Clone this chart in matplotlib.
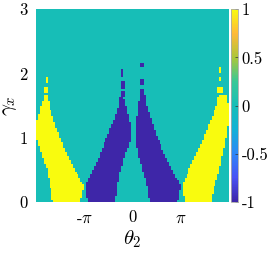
import numpy as np
import matplotlib
matplotlib.use("Agg")
import matplotlib.pyplot as plt
from matplotlib.path import Path
from matplotlib.colors import LinearSegmentedColormap

# ---- data (theta in units of pi, gamma_x) ----
gamma_levels = [0.0, 0.25, 0.5, 0.75, 1.0, 1.25, 1.5, 1.65]

yellowL_left = [-1.64, -1.71, -1.77, -1.89, -1.99, -1.99, -1.90, -1.82]
yellowL_right = [-1.09, -1.00, -1.20, -1.36, -1.50, -1.62, -1.72, -1.76]

blueL_left = [-0.92, -0.98, -0.81, -0.67, -0.54, -0.40, -0.29, -0.25]
blueL_right = [-0.36, -0.32, -0.25, -0.15, -0.03, -0.06, -0.14, -0.20]

blueR_left = [0.36, 0.30, 0.21, 0.12, 0.07, 0.09, 0.12, 0.16]
blueR_right = [0.92, 1.00, 0.82, 0.66, 0.52, 0.40, 0.30, 0.26]

yellowR_left = [1.09, 1.02, 1.17, 1.33, 1.47, 1.60, 1.74, 1.79]
yellowR_right = [1.61, 1.70, 1.80, 1.87, 1.94, 1.99, 1.99, 1.95]

# isolated fragments: centre theta (pi units), centre gamma, half widths, value
frag_theta = [-1.80, -1.79, -1.80, -0.21, -0.20, -0.19, 0.20, 0.21, 0.21, 1.82, 1.82, 1.82]
frag_gamma = [2.30, 1.90, 1.74, 2.00, 1.80, 1.66, 2.13, 1.86, 1.70, 2.05, 1.90, 1.74]
frag_hw = [0.02, 0.02, 0.05, 0.03, 0.03, 0.04, 0.03, 0.03, 0.04, 0.02, 0.02, 0.04]
frag_hh = [0.06, 0.05, 0.05, 0.05, 0.06, 0.05, 0.03, 0.06, 0.05, 0.04, 0.03, 0.05]
frag_val = [1, 1, 1, -1, -1, -1, -1, -1, -1, 1, 1, 1]

cbar_ticks = [-1, -0.5, 0, 0.5, 1]
cbar_labels = ["-1", "-0.5", "0", "0.5", "1"]
x_ticks = [-np.pi, 0, np.pi]
x_labels = [r"-$\pi$", "0", r"$\pi$"]
y_ticks = [0, 1, 2, 3]
y_labels = ["0", "1", "2", "3"]

# ---- build grid ----
nx, ny = 100, 96
u_edges = np.linspace(-2, 2, nx + 1)
g_edges = np.linspace(0, 3, ny + 1)
uc = 0.5 * (u_edges[:-1] + u_edges[1:])
gc = 0.5 * (g_edges[:-1] + g_edges[1:])
U, G = np.meshgrid(uc, gc)
pts = np.column_stack([U.ravel(), G.ravel()])
Z = np.zeros(U.shape)


def region(left, right):
    verts = list(zip(left, gamma_levels)) + list(zip(right[::-1], gamma_levels[::-1]))
    verts[0] = (left[0], -0.05)
    verts[-1] = (right[0], -0.05)
    return Path(verts).contains_points(pts).reshape(U.shape)


Z[region(yellowL_left, yellowL_right)] = 1
Z[region(yellowR_left, yellowR_right)] = 1
Z[region(blueL_left, blueL_right)] = -1
Z[region(blueR_left, blueR_right)] = -1
for t, g, hw, hh, v in zip(frag_theta, frag_gamma, frag_hw, frag_hh, frag_val):
    Z[(np.abs(U - t) <= hw) & (np.abs(G - g) <= hh)] = v

# ---- parula-like colormap ----
parula_pts = [
    (0.2422, 0.1504, 0.6603),
    (0.2810, 0.3228, 0.9579),
    (0.1786, 0.5289, 0.9682),
    (0.0689, 0.6948, 0.8394),
    (0.0900, 0.7450, 0.7200),
    (0.2161, 0.7843, 0.5923),
    (0.6720, 0.7793, 0.2227),
    (0.9970, 0.7248, 0.2239),
    (0.9763, 0.9831, 0.0538),
]
cmap = LinearSegmentedColormap.from_list("parula", parula_pts)

plt.rcParams["mathtext.fontset"] = "cm"
plt.rcParams["axes.unicode_minus"] = False

fig = plt.figure(figsize=(2.73, 2.57), dpi=100)
W, H = 273, 257
ax = fig.add_axes([36 / W, 1 - 201.7 / H, 193 / W, 192.4 / H])
mesh = ax.pcolormesh(u_edges * np.pi, g_edges, Z, cmap=cmap, vmin=-1, vmax=1,
                     shading="flat", rasterized=True)
ax.set_xlim(-2 * np.pi, 2 * np.pi)
ax.set_ylim(0, 3)
for s in ax.spines.values():
    s.set_visible(False)
ax.set_xticks(x_ticks)
ax.set_xticklabels(x_labels, fontfamily="cmr10", fontsize=12)
ax.set_yticks(y_ticks)
ax.set_yticklabels(y_labels, fontfamily="cmr10", fontsize=12)
ax.tick_params(length=0, pad=6)
ax.set_xlabel(r"$\theta_2$", fontsize=15, labelpad=2)
ax.set_ylabel(r"$\gamma_x$", fontsize=15, labelpad=0)

cax = fig.add_axes([231 / W, 1 - 201.7 / H, 6.5 / W, 192.4 / H])
cb = fig.colorbar(mesh, cax=cax, ticks=cbar_ticks)
cb.ax.set_yticklabels(cbar_labels, fontfamily="cmr10", fontsize=12)
cb.ax.tick_params(direction="in", length=2, width=0.5, pad=3, color="#333333")
cb.outline.set_edgecolor("#aaaaaa")
cb.outline.set_linewidth(0.6)

fig.savefig("out.png", dpi=100)
